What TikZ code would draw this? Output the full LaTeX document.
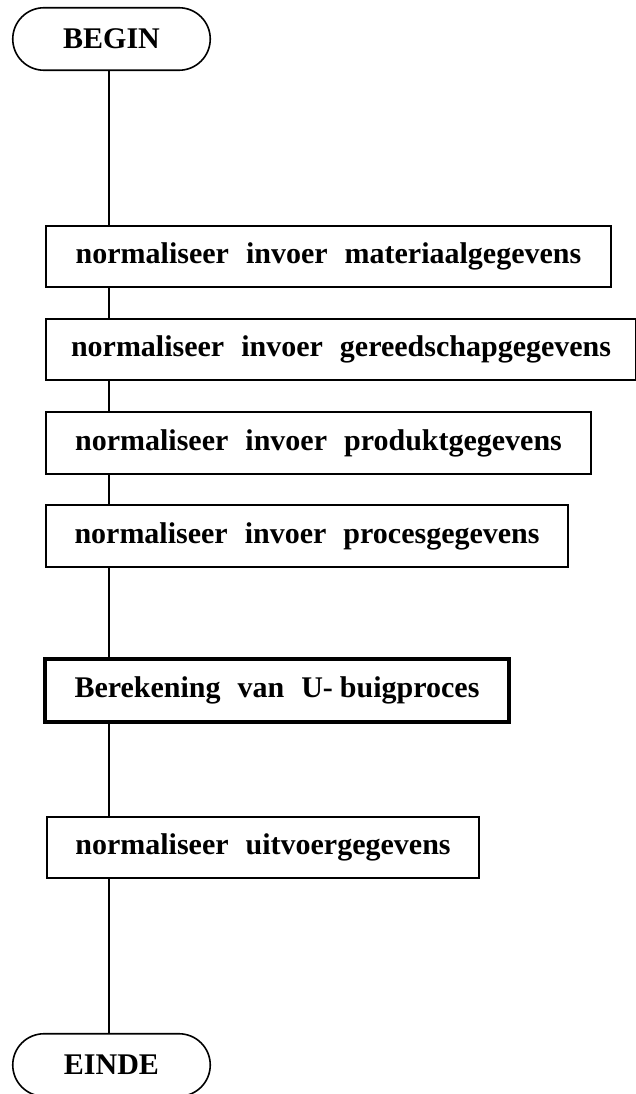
\documentclass[tikz,border=0pt]{standalone}
\usepackage{fontspec}
\setmainfont{Liberation Serif}
\usetikzlibrary{shapes.misc}
\newcommand{\flowfont}{\fontsize{30}{34}\bfseries\selectfont\spaceskip=17pt\relax}
\tikzset{
  procbox/.style={draw, line width=1.6pt, rectangle, minimum height=61.5pt, inner sep=0pt, font=\flowfont},
  mainbox/.style={draw, line width=4pt, rectangle, minimum height=63pt, inner sep=0pt, font=\flowfont},
  termbox/.style={draw, line width=1.6pt, rounded rectangle, minimum width=197.5pt, minimum height=62.5pt, inner sep=0pt, font=\flowfont},
  conn/.style={line width=1.3pt}
}
\begin{document}
\begin{tikzpicture}[x=1pt,y=-1pt]
\useasboundingbox (0,0) rectangle (635,1094);
\node[termbox] (begin) at (111.5,39) {BEGIN};
\node[procbox, minimum width=565.5pt] (b1) at (328.5,256.5) {normaliseer invoer materiaalgegevens};
\node[procbox, minimum width=590.5pt] (b2) at (341,349.5) {normaliseer invoer gereedschapgegevens};
\node[procbox, minimum width=545.5pt] (b3) at (318.5,443) {normaliseer invoer produktgegevens};
\node[procbox, minimum width=522.5pt] (b4) at (307,536) {normaliseer invoer procesgegevens};
\node[mainbox, minimum width=464pt] (b5) at (277,690.5) {Berekening van U-\hspace{7pt}buigproces};
\node[procbox, minimum width=432.5pt] (b6) at (263,847.5) {normaliseer uitvoergegevens};
\node[termbox] (einde) at (111.5,1065) {EINDE};
\coordinate (spine) at (109,0);
\draw[conn] (begin.south -| spine) -- (b1.north -| spine);
\draw[conn] (b1.south -| spine) -- (b2.north -| spine);
\draw[conn] (b2.south -| spine) -- (b3.north -| spine);
\draw[conn] (b3.south -| spine) -- (b4.north -| spine);
\draw[conn] (b4.south -| spine) -- (b5.north -| spine);
\draw[conn] (b5.south -| spine) -- (b6.north -| spine);
\draw[conn] (b6.south -| spine) -- (einde.north -| spine);
\end{tikzpicture}
\end{document}
